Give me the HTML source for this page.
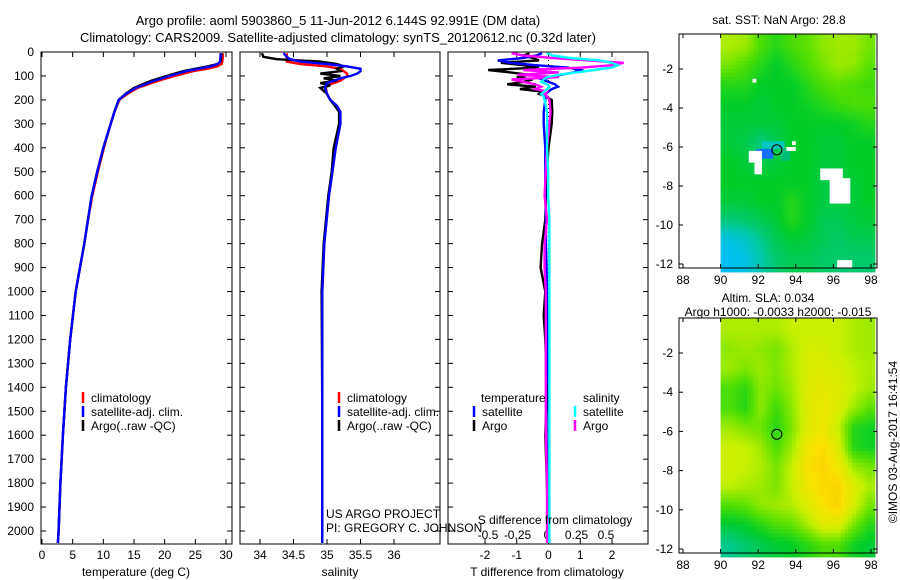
<!DOCTYPE html>
<html><head><meta charset="utf-8"><style>
html,body{margin:0;padding:0;background:#fff;}
svg{display:block;font-family:"Liberation Sans",sans-serif;}
</style></head><body>
<svg id="fig" width="900" height="580" viewBox="0 0 900 580" xmlns="http://www.w3.org/2000/svg">
<text x="338" y="25" font-size="13" text-anchor="middle">Argo profile: aoml 5903860_5 11-Jun-2012 6.144S 92.991E (DM data)</text>
<text x="338" y="42" font-size="13" text-anchor="middle">Climatology: CARS2009. Satellite-adjusted climatology: synTS_20120612.nc (0.32d later)</text>
<text x="779" y="24" font-size="12" text-anchor="middle">sat. SST: NaN Argo: 28.8</text>
<text x="768" y="302" font-size="12" text-anchor="middle">Altim. SLA: 0.034</text>
<text x="778" y="316" font-size="12" text-anchor="middle">Argo h1000: -0.0033 h2000: -0.015</text>
<text transform="translate(897,442) rotate(-90)" font-size="12" text-anchor="middle">©IMOS 03-Aug-2017 16:41:54</text>
<g id="g"></g>
</svg>
<script>
// ---------- data ----------
const tDepths=[5,20,40,50,60,70,80,100,120,150,175,200,250,300,400,500,600,700,800,900,1000,1200,1400,1600,1800,2000,2050];
const tArgo=[29.3,29.2,29.1,28.6,27,25,23,20.3,17.8,15,13.6,12.5,11.8,11.2,10,9,8.1,7.5,6.9,6.2,5.5,4.6,3.9,3.4,3,2.7,2.6];
const tClim=[29.5,29.5,29.4,29.3,28.6,26.9,24.6,21.6,19,15.6,13.9,12.6,11.8,11.2,10.1,9.1,8.2,7.5,6.9,6.2,5.5,4.6,3.9,3.4,3,2.7,2.6];
const tSat=[29.1,29.1,29.0,28.7,27.5,25.5,23.5,20.8,18.3,15.3,13.7,12.5,11.8,11.2,10,9,8.1,7.5,6.9,6.2,5.5,4.6,3.9,3.4,3,2.7,2.6];
const sDepths=[5,20,30,40,50,60,70,80,90,100,110,120,130,140,150,175,200,225,250,300,400,500,600,800,1000,1500,2000,2050];
const sArgo=[34.03,34.05,34.25,34.9,35.15,35.25,35.15,35.2,34.9,35.2,34.95,35.15,34.9,35.05,34.9,35.0,35.05,35.12,35.18,35.18,35.1,35.07,35.02,34.95,34.92,34.93,34.93,34.93];
const sClim=[34.4,34.4,34.4,34.4,34.6,35.0,35.2,35.25,35.3,35.3,35.25,35.2,35.1,35.0,34.98,35.0,35.05,35.15,35.2,35.2,35.13,35.08,35.03,34.96,34.93,34.93,34.93,34.93];
const sSat=[34.35,34.4,34.45,34.6,35.0,35.3,35.5,35.5,35.45,35.35,35.2,35.1,35.0,34.98,34.97,35.0,35.05,35.15,35.2,35.2,35.13,35.08,35.03,34.96,34.93,34.93,34.93,34.93];
const dDepths=[5,15,25,35,45,55,65,75,85,95,105,115,125,135,145,155,165,175,185,200,250,300,400,500,600,700,800,900,1000,1100,1200,1400,1600,1800,2000,2050];
const dTSat=[-0.2,-0.4,-0.8,-1.6,-1.2,-0.4,0.6,1.0,0.8,0.4,0.1,-0.2,0,0.2,0.3,0.1,0,-0.1,-0.1,-0.1,-0.15,-0.15,-0.1,-0.1,-0.1,-0.08,-0.08,-0.06,-0.05,-0.04,-0.03,0,0,0,0,0];
const dTArgo=[-0.6,-0.8,-0.5,-0.3,-1.5,-0.8,-0.3,-1.9,-1.2,-0.6,-1.0,-0.5,-0.8,-1.3,-0.4,-0.9,-0.2,-0.3,-0.1,0.1,0.12,0.1,0,-0.05,-0.08,-0.1,-0.2,-0.25,-0.1,-0.15,-0.1,-0.05,-0.1,-0.05,0,0];
const dSSat=[0,0.05,0.2,0.45,0.55,0.6,0.55,0.4,0.25,0.1,0,-0.03,-0.05,0,0.02,0,-0.02,-0.05,-0.03,-0.02,0,0,0,0.01,0.01,0.02,0.02,0.02,0.02,0.02,0.02,0.02,0.02,0.02,0.02,0.02];
const dSArgo=[-0.3,-0.2,0.05,0.35,0.65,0.55,0.3,-0.2,0.1,-0.25,0.1,-0.3,-0.2,-0.1,-0.05,-0.1,0,-0.02,0,0.02,0.03,0.02,0,-0.01,-0.02,0,-0.02,-0.02,-0.01,-0.01,-0.01,-0.01,-0.01,0,0,0];
const depthTicks=[0,100,200,300,400,500,600,700,800,900,1000,1100,1200,1300,1400,1500,1600,1700,1800,1900,2000];
const tTicks=[0,5,10,15,20,25,30];
const sTicks=[34,34.5,35,35.5,36];
const sTickLabels=["34","34.5","35","35.5","36"];
const dTTicks=[-2,-1,0,1,2];
const dSTicks=[-0.5,-0.25,0,0.25,0.5];
const dSTickLabels=["-0.5","-0.25","0","0.25","0.5"];
const lonTicks=[88,90,92,94,96,98];
const latTicks=[-2,-4,-6,-8,-10,-12];
const sstGrid=[
[0.72,0.7,0.6,0.55,0.6,0.62,0.68,0.7,0.7,0.65],
[0.65,0.6,0.55,0.5,0.55,0.6,0.65,0.7,0.68,0.62],
[0.55,0.55,0.5,0.5,0.5,0.55,0.6,0.62,0.6,0.58],
[0.5,0.5,0.48,0.5,0.5,0.52,0.55,0.58,0.6,0.6],
[0.48,0.48,0.48,0.48,0.5,0.5,0.5,0.5,0.52,0.55],
[0.48,0.46,0.4,0.45,0.5,0.5,0.48,0.48,0.5,0.5],
[0.5,0.48,0.45,0.48,0.5,0.5,0.48,0.48,0.5,0.5],
[0.5,0.5,0.5,0.5,0.5,0.5,0.47,0.47,0.48,0.5],
[0.48,0.48,0.5,0.5,0.55,0.5,0.47,0.47,0.48,0.5],
[0.4,0.42,0.45,0.48,0.55,0.5,0.45,0.45,0.47,0.48],
[0.25,0.3,0.38,0.45,0.48,0.47,0.45,0.43,0.45,0.45],
[0.22,0.25,0.35,0.42,0.45,0.45,0.43,0.42,0.42,0.42]];
const slaGrid=[
[0.72,0.72,0.72,0.72,0.75,0.75,0.75,0.75,0.72,0.7],
[0.68,0.7,0.68,0.65,0.72,0.78,0.78,0.75,0.72,0.7],
[0.7,0.66,0.7,0.66,0.72,0.78,0.8,0.78,0.74,0.72],
[0.6,0.56,0.68,0.64,0.7,0.8,0.82,0.8,0.75,0.7],
[0.6,0.55,0.68,0.58,0.68,0.8,0.84,0.8,0.7,0.62],
[0.7,0.66,0.64,0.55,0.66,0.8,0.85,0.75,0.55,0.52],
[0.76,0.75,0.7,0.6,0.7,0.85,0.9,0.8,0.55,0.52],
[0.76,0.75,0.72,0.65,0.75,0.88,0.92,0.85,0.7,0.65],
[0.74,0.72,0.7,0.66,0.75,0.85,0.9,0.92,0.8,0.72],
[0.6,0.62,0.68,0.7,0.72,0.8,0.88,0.92,0.78,0.65],
[0.48,0.5,0.55,0.6,0.62,0.7,0.8,0.8,0.65,0.55],
[0.38,0.42,0.45,0.48,0.5,0.55,0.6,0.6,0.52,0.48]];
const argoLon=92.991, argoLat=-6.144;

// ---------- helpers ----------
const NS="http://www.w3.org/2000/svg";
const G=document.getElementById('g');
function el(tag,attrs,parent){const e=document.createElementNS(NS,tag);for(const k in attrs)e.setAttribute(k,attrs[k]);(parent||G).appendChild(e);return e;}
function txt(x,y,s,anchor,size,name){const t=el('text',{x:x,y:y,'font-size':size||12,'text-anchor':anchor||'start'});t.textContent=s;


return t;}
const Y0=52, Y1=544;
const yD=d=>52+d*0.2395;
function lin(v0,p0,v1,p1){return v=>p0+(v-v0)*(p1-p0)/(v1-v0);}
function panel(x0,x1,name){const r=el('rect',{x:x0,y:Y0,width:x1-x0,height:Y1-Y0,fill:'none',stroke:'#000','stroke-width':1});


depthTicks.forEach(d=>{const y=yD(d);el('line',{x1:x0,x2:x0+5,y1:y,y2:y,stroke:'#000'});el('line',{x1:x1-5,x2:x1,y1:y,y2:y,stroke:'#000'});});}
function xticks(vals,fx,labels,ly,name){vals.forEach((v,i)=>{const x=fx(v);el('line',{x1:x,x2:x,y1:Y0,y2:Y0+5,stroke:'#000'});el('line',{x1:x,x2:x,y1:Y1-5,y2:Y1,stroke:'#000'});if(labels)txt(x,ly,labels[i],'middle',12,name);});}
function profile(depths,vals,fx,color,name){const pts=depths.map((d,i)=>fx(vals[i]).toFixed(1)+','+yD(d).toFixed(1)).join(' ');const p=el('polyline',{points:pts,fill:'none',stroke:color,'stroke-width':2.4});

}
function legendItem(x,y,color,label,name){el('line',{x1:x,x2:x,y1:y-10,y2:y+1,stroke:color,'stroke-width':2.5});txt(x+8,y,label,'start',12,name);}

// ---------- panel 1: temperature ----------
const xT=lin(0,42,30,226);
panel(41,232,'temperature-panel');
xticks(tTicks,xT,tTicks.map(String),559,'temperature-tick-label');
depthTicks.forEach(d=>txt(34,yD(d)+4,String(d),'end',12,'depth-tick-label'));
profile(tDepths,tClim,xT,'#f00','temperature-climatology-line');
profile(tDepths,tArgo,xT,'#000','temperature-argo-line');
profile(tDepths,tSat,xT,'#00f','temperature-satellite-line');
txt(136,576,'temperature (deg C)','middle',12,'temperature-axis-title');
legendItem(83,402,'#f00','climatology','legend-climatology');
legendItem(83,416,'#00f','satellite-adj. clim.','legend-satellite');
legendItem(83,430,'#000','Argo(..raw -QC)','legend-argo');

// ---------- panel 2: salinity ----------
const xS=lin(34,260,36,394);
panel(240,440,'salinity-panel');
xticks(sTicks,xS,sTickLabels,559,'salinity-tick-label');
profile(sDepths,sClim,xS,'#f00','salinity-climatology-line');
profile(sDepths,sArgo,xS,'#000','salinity-argo-line');
profile(sDepths,sSat,xS,'#00f','salinity-satellite-line');
txt(340,576,'salinity','middle',12,'salinity-axis-title');
legendItem(339,402,'#f00','climatology','legend-climatology-2');
legendItem(339,416,'#00f','satellite-adj. clim.','legend-satellite-2');
legendItem(339,430,'#000','Argo(..raw -QC)','legend-argo-2');
txt(326,518,'US ARGO PROJECT','start',12,'project-label');
txt(326,532,'PI: GREGORY C. JOHNSON','start',12,'pi-label');

// ---------- panel 3: differences ----------
const xDT=lin(-2,485,2,612);
const xDS=lin(-0.5,488,0.5,606);
panel(448,648,'difference-panel');
xticks(dTTicks,xDT,dTTicks.map(String),559,'t-diff-tick-label');
dSTicks.forEach((v,i)=>txt(xDS(v),539,dSTickLabels[i],'middle',12,'s-diff-tick-label'));
el('line',{x1:xDT(0),x2:xDT(0),y1:Y0,y2:Y1,stroke:'#000','stroke-dasharray':'1,3','stroke-width':1});
profile(dDepths,dTArgo,xDT,'#000','t-diff-argo-line');
profile(dDepths,dTSat,xDT,'#00f','t-diff-satellite-line');
profile(dDepths,dSArgo,xDS,'#f0f','s-diff-argo-line');
profile(dDepths,dSSat,xDS,'#0ff','s-diff-satellite-line');
txt(555,524,'S difference from climatology','middle',12,'s-diff-axis-title');
txt(547,576,'T difference from climatology','middle',12,'t-diff-axis-title');
txt(481,402,'temperature','start',12,'legend-temperature-heading');
txt(583,402,'salinity','start',12,'legend-salinity-heading');
legendItem(474,416,'#00f','satellite','legend-t-satellite');
legendItem(474,430,'#000','Argo','legend-t-argo');
legendItem(575,416,'#0ff','satellite','legend-s-satellite');
legendItem(575,430,'#f0f','Argo','legend-s-argo');

// ---------- maps ----------
const stops=[[0,[0,90,255]],[0.2,[0,190,255]],[0.35,[0,200,170]],[0.5,[0,205,40]],[0.62,[90,225,0]],[0.75,[200,240,0]],[0.88,[250,225,0]],[1,[255,180,0]]];
function cmap(v){for(let i=1;i<stops.length;i++){if(v<=stops[i][0]){const a=stops[i-1],b=stops[i];const t=(v-a[0])/(b[0]-a[0]);const c=a[1].map((x,k)=>Math.round(x+(b[1][k]-x)*t));return 'rgb('+c.join(',')+')';}}return 'rgb(255,180,0)';}
function sample(grid,r,c){const R=grid.length,C=grid[0].length;r=Math.max(0,Math.min(R-1,r));c=Math.max(0,Math.min(C-1,c));const r0=Math.floor(r),c0=Math.floor(c),r1=Math.min(R-1,r0+1),c1=Math.min(C-1,c0+1),fr=r-r0,fc=c-c0;return grid[r0][c0]*(1-fr)*(1-fc)+grid[r0][c1]*(1-fr)*fc+grid[r1][c0]*fr*(1-fc)+grid[r1][c1]*fr*fc;}
function map(grid,top,bot,name,whites,blues){
  const xL=lin(88,683,98,871), yL=lin(-2,top+35,-12,bot-4);
  const x0=679,x1=877;
  const g=el('g',{});
  
  
  const lat0=-0.2, lat1=-12.2;
  for(let lon=90;lon<98.2;lon+=0.2){for(let lat=lat0;lat>lat1;lat-=0.2){
    const c=(lon-90)/8.2*9.99-0.5, r=(lat0-lat)/12*11.99-0.5;
    el('rect',{x:xL(lon).toFixed(1),y:yL(lat).toFixed(1),width:(xL(0.2)-xL(0)+0.6).toFixed(1),height:(yL(0)-yL(0.2)+0.6).toFixed(1),fill:cmap(sample(grid,r,c))},g);}}
  (blues||[]).forEach(b=>el('rect',{x:xL(b[0]),y:yL(b[1]),width:xL(b[2])-xL(0),height:yL(0)-yL(b[3]),fill:b[4]},g));
  (whites||[]).forEach(w=>el('rect',{x:xL(w[0]),y:yL(w[1]),width:xL(w[2])-xL(0),height:yL(0)-yL(w[3]),fill:'#fff'},g));
  el('rect',{x:x0,y:top,width:x1-x0,height:bot-top,fill:'none',stroke:'#000'});
  lonTicks.forEach(v=>{const x=xL(v);el('line',{x1:x,x2:x,y1:bot-4,y2:bot,stroke:'#000'});el('line',{x1:x,x2:x,y1:top,y2:top+4,stroke:'#000'});txt(x,bot+16,String(v),'middle',12,'lon-tick-label');});
  latTicks.forEach(v=>{const y=yL(v);el('line',{x1:x0,x2:x0+4,y1:y,y2:y,stroke:'#000'});el('line',{x1:x1-4,x2:x1,y1:y,y2:y,stroke:'#000'});txt(673,y+4,String(v),'end',12,'lat-tick-label');});
  const c=el('circle',{cx:xL(argoLon),cy:yL(argoLat),r:5,fill:'none',stroke:'#000'},g);
  
  
}
map(sstGrid,34,268,'sst-map',
 [[91.5,-6.2,0.7,0.6],[91.8,-6.8,0.4,0.6],[93.5,-6.0,0.5,0.2],[91.7,-2.5,0.2,0.2],[93.8,-5.7,0.2,0.2],[95.3,-7.1,1.2,0.6],[95.8,-7.6,1.1,1.3],[96.2,-11.8,0.8,0.4]],
 [[92.2,-5.7,1.2,0.4,'rgb(0,200,190)'],[91.9,-6.1,0.9,0.5,'rgb(20,110,255)'],[93.2,-6.1,0.5,0.6,'rgb(0,190,120)']]);
map(slaGrid,318,553,'sla-map',[],[]);
</script>
</body></html>
